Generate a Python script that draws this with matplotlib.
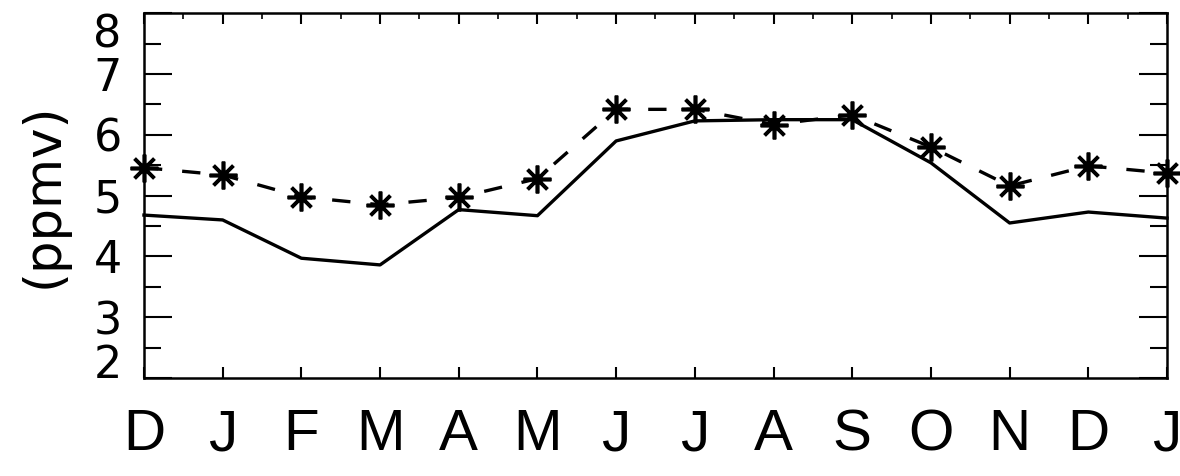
import matplotlib
matplotlib.use("Agg")
import matplotlib.pyplot as plt
import numpy as np
from matplotlib import font_manager
from matplotlib.ticker import MultipleLocator

months = ["D", "J", "F", "M", "A", "M", "J", "J", "A", "S", "O", "N", "D", "J"]
solid_vals = [4.68, 4.60, 3.97, 3.86, 4.77, 4.67, 5.90, 6.23, 6.25, 6.25, 5.54, 4.55, 4.73, 4.63]
star_vals = [5.46, 5.34, 4.98, 4.85, 4.97, 5.28, 6.42, 6.42, 6.17, 6.33, 5.80, 5.16, 5.49, 5.37]
yticks = [2, 3, 4, 5, 6, 7, 8]

# narrow face for the month letters, if there is one
names = {f.name for f in font_manager.fontManager.ttflist}
narrow = "Liberation Sans Narrow" if "Liberation Sans Narrow" in names else "Liberation Sans"

x = np.arange(len(months))

fig = plt.figure(figsize=(11.8, 4.76), dpi=100)
ax = fig.add_axes([0.122, 0.206, 0.867, 0.766])

ax.plot(x, solid_vals, color="black", lw=2.4, clip_on=False)
ax.plot(x, star_vals, color="black", lw=2.4, dashes=(5.5, 6),
        marker=(8, 2, 0), markersize=20, markeredgewidth=2.6, clip_on=False)

ax.set_xlim(0, len(months) - 1)
ax.set_ylim(2, 8)

for s in ax.spines.values():
    s.set_linewidth(1.8)

ax.set_xticks(x)
ax.set_xticklabels(months, fontsize=42, family=narrow)
ax.xaxis.set_minor_locator(MultipleLocator(0.5))
ax.set_yticks(yticks)
ax.set_yticklabels([str(v) for v in yticks], fontsize=32)
ax.yaxis.set_minor_locator(MultipleLocator(0.5))

ax.tick_params(axis="x", which="major", direction="in", length=8, width=1.5,
               top=True, pad=22)
ax.tick_params(axis="x", which="minor", direction="in", length=4, width=1.2,
               top=True, bottom=False)
ax.tick_params(axis="y", which="major", direction="in", length=20, width=1.5,
               right=True, pad=16)
ax.tick_params(axis="y", which="minor", direction="in", length=12, width=1.5,
               right=True)

# end labels sit inside the axis range
ylabels = ax.get_yticklabels()
ylabels[0].set_va("baseline")
ylabels[-1].set_va("top")

ax.set_ylabel("(ppmv)", fontsize=37, labelpad=18)

fig.savefig("out.png", dpi=100)
